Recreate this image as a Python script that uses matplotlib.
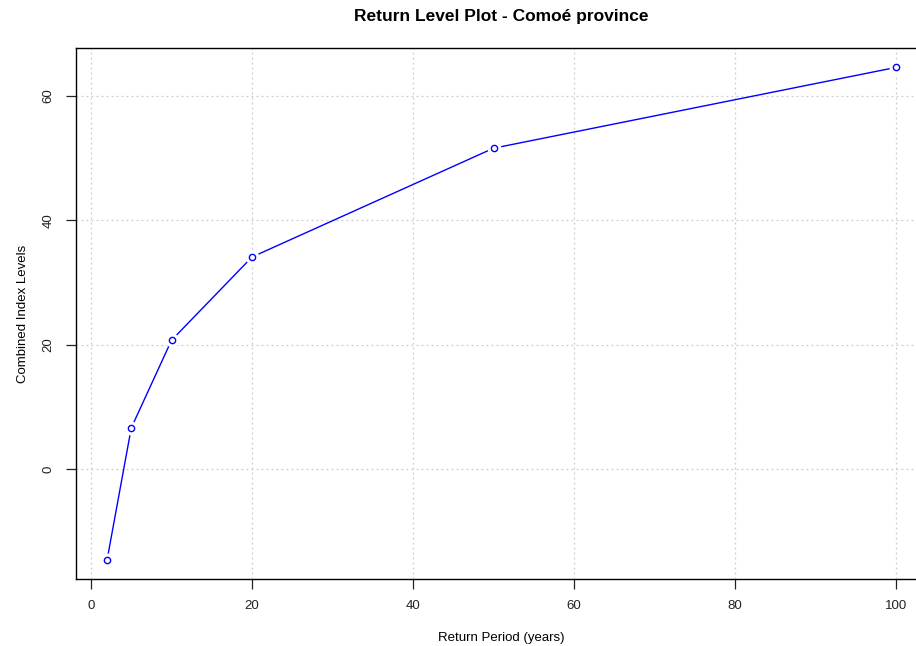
import matplotlib
matplotlib.use("Agg")
import matplotlib.pyplot as plt

plt.rcParams['font.family'] = ['Liberation Sans', 'DejaVu Sans']

return_periods = [2, 5, 10, 20, 50, 100]
return_levels = [-14.6, 6.6, 20.7, 34.1, 51.6, 64.6]
x_ticks = [0, 20, 40, 60, 80, 100]
y_ticks = [0, 20, 40, 60]

W, H = 916, 646
fig = plt.figure(figsize=(W / 100, H / 100), dpi=100)

# R-style 4% padding around the data range
xmin, xmax = min(return_periods), max(return_periods)
ymin, ymax = min(return_levels), max(return_levels)
xpad = 0.04 * (xmax - xmin)
ypad = 0.04 * (ymax - ymin)
xlim = (xmin - xpad, xmax + xpad)
ylim = (ymin - ypad, ymax + ypad)

# plot region in pixels: x=0 -> 91px, x=100 -> 896px; y=0 -> 469px, y=60 -> 96px
px_per_x = (896 - 91) / 100
px_per_y = (469 - 96) / 60
left_px = 91 + xlim[0] * px_per_x
right_px = 91 + xlim[1] * px_per_x
top_px = 469 - ylim[1] * px_per_y
bottom_px = 469 - ylim[0] * px_per_y

ax = fig.add_axes([left_px / W, 1 - bottom_px / H,
                   (right_px - left_px) / W, (bottom_px - top_px) / H])
ax.set_xlim(*xlim)
ax.set_ylim(*ylim)

ax.grid(True, color='#cccccc', linestyle=(0, (1.5, 2.5)), linewidth=0.9)
ax.set_axisbelow(True)

ax.plot(return_periods, return_levels, color='#0000FF', linewidth=1.0, zorder=3)
ax.plot(return_periods, return_levels, linestyle='none', marker='o', markersize=9,
        markerfacecolor='white', markeredgecolor='white', zorder=4)
ax.plot(return_periods, return_levels, linestyle='none', marker='o', markersize=4.5,
        markerfacecolor='white', markeredgecolor='#0000FF', markeredgewidth=1.0, zorder=5)

ax.set_xticks(x_ticks)
ax.set_yticks(y_ticks)
ax.set_yticklabels([str(v) for v in y_ticks], rotation=90, va='center')
ax.tick_params(axis='both', direction='out', length=7, width=0.9, labelsize=9.5,
               colors='#222222', pad=8)
ax.tick_params(axis='y', pad=8)

for s in ax.spines.values():
    s.set_linewidth(1.0)
    s.set_color('black')

ax.set_xlabel('Return Period (years)', fontsize=9.5, labelpad=14)
ax.set_ylabel('Combined Index Levels', fontsize=9.5, labelpad=10)

fig.text(501 / W, 1 - 17 / H, 'Return Level Plot - Comoé province',
         fontsize=12.5, fontweight='bold', ha='center', va='center')

fig.savefig('out.png', dpi=100, facecolor='white')
